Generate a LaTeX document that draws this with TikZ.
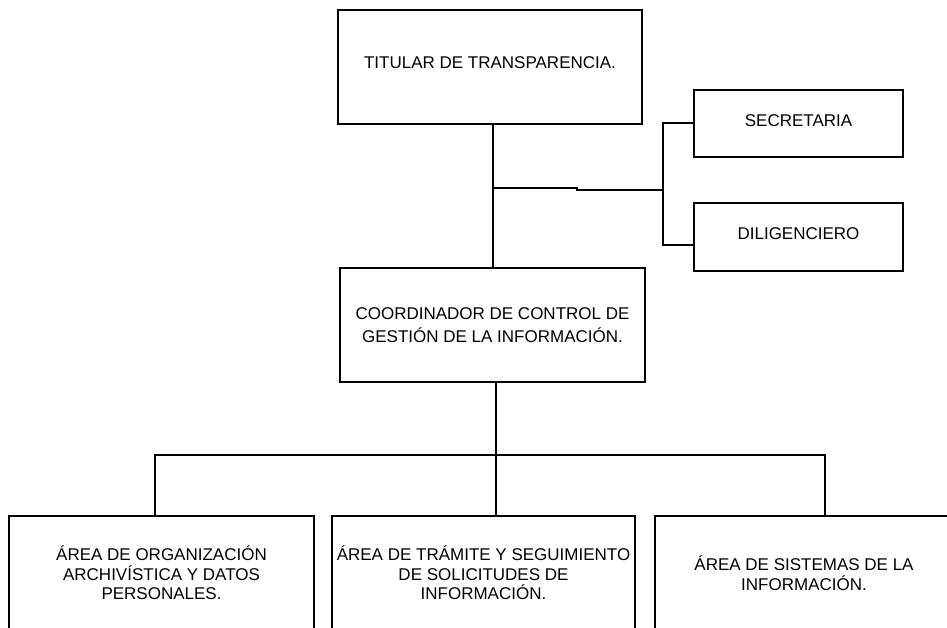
\documentclass[tikz,border=0pt]{standalone}
\usepackage{fontspec}
\setmainfont{Liberation Sans}
\begin{document}
\begin{tikzpicture}[x=1pt,y=-1pt,
  box/.style={draw=black,line width=1.2pt,align=center,inner sep=0pt,
    font=\fontsize{17}{19.5}\selectfont},
  txt/.style={align=center,inner sep=0pt,font=\fontsize{17}{19.5}\selectfont},
  conn/.style={draw=black,line width=1.2pt}]
\useasboundingbox (0,0) rectangle (947,627);
% nodes
\node[box,minimum width=304pt,minimum height=114pt,text height=12pt,text depth=10pt] (top) at (490,67) {TITULAR DE TRANSPARENCIA.};
\node[box,minimum width=209pt,minimum height=67pt,text height=12pt,text depth=7pt] (sec) at (798.5,123.5) {SECRETARIA};
\node[box,minimum width=209pt,minimum height=68pt,text height=12pt,text depth=8pt] (dil) at (798.5,237) {DILIGENCIERO};
\node[box,minimum width=305pt,minimum height=114pt,font=\fontsize{17}{23.5}\selectfont] (coord) at (492.5,325) {COORDINADOR DE CONTROL DE\\GESTIÓN DE LA INFORMACIÓN.};
\node[box,minimum width=305pt,minimum height=114pt] (left) at (161.5,573) {ÁREA DE ORGANIZACIÓN\\ARCHIVÍSTICA Y DATOS\\PERSONALES.};
\node[box,minimum width=303pt,minimum height=114pt] (mid) at (483.5,573) {ÁREA DE TRÁMITE Y SEGUIMIENTO\\DE SOLICITUDES DE\\INFORMACIÓN.};
\node[draw=none,minimum width=296pt,minimum height=114pt,inner sep=0pt,outer sep=0pt] (right) at (803,573) {};
\draw[conn] (right.south west) -- (right.north west) -- (right.north east);
\node[txt] (righttext) at (804,573) {ÁREA DE SISTEMAS DE LA\\INFORMACIÓN.};
% junctions
\coordinate (j1) at (493,188);
\coordinate (ja) at (577,188);
\coordinate (jb) at (577,190);
\coordinate (j2) at (663,190);
\coordinate (bus) at (496,455);
\coordinate (bl) at (155,455);
\coordinate (br) at (825,455);
% connectors
\draw[conn] (top.south -| j1) -- (coord.north -| j1);
\draw[conn] (j1) -- (ja) -- (jb) -- (j2);
\draw[conn] ([yshift=0.5pt]sec.west) -| (j2) |- ([yshift=-8pt]dil.west);
\draw[conn] (coord.south -| bus) -- (mid.north -| bus);
\draw[conn] (left.north -| bl) -- (bl) -- (br) -- (right.north -| br);
\end{tikzpicture}
\end{document}
